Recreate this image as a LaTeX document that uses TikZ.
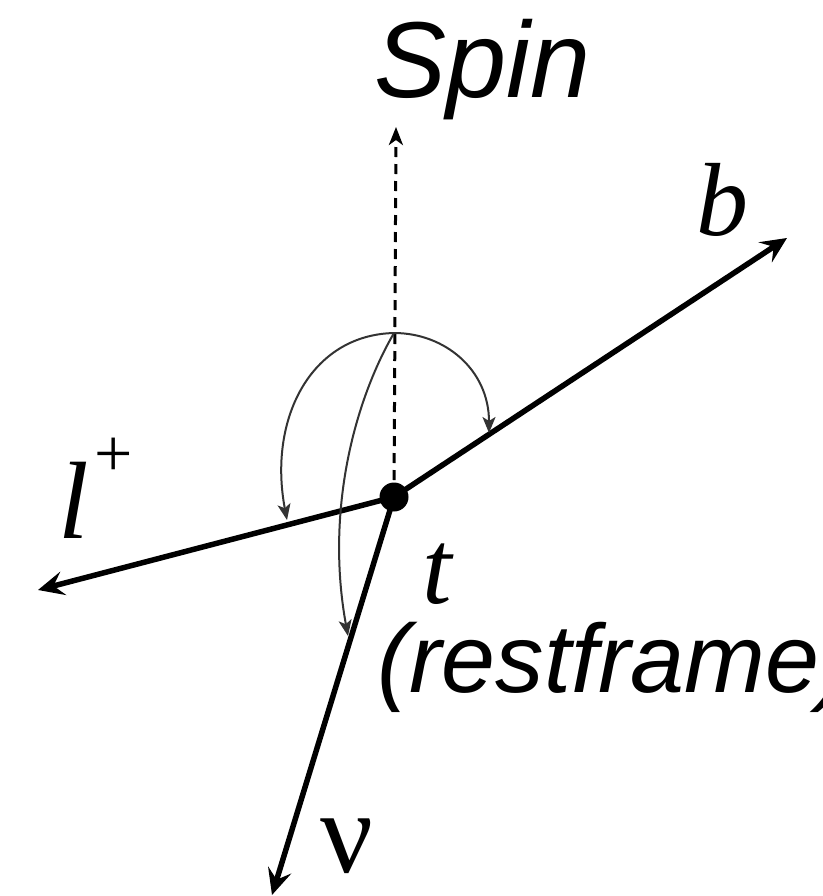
\documentclass[tikz,border=0pt]{standalone}
\usepackage{fontspec}
\setmainfont{Liberation Serif}
\newfontfamily\arialfont{Liberation Sans}
\usetikzlibrary{arrows.meta}
\tikzset{
  mainline/.style={line width=5.5pt, -{Stealth[length=26pt,width=24pt,inset=10pt]}},
  spinline/.style={line width=3pt, dash pattern=on 10pt off 7pt, -{Stealth[length=18pt,width=14pt,inset=5pt]}},
  anglearc/.style={line width=2pt, draw=black!80, -{Stealth[length=16pt,width=13pt,inset=4pt]}},
  sanslabel/.style={inner sep=0pt, anchor=base west, font=\arialfont\itshape},
  seriflabel/.style={inner sep=0pt, anchor=base west},
  dotnode/.style={circle, fill=black, minimum size=29pt, inner sep=0pt}
}
\begin{document}
\begin{tikzpicture}[x=1pt,y=-1pt]
\useasboundingbox (0,0) rectangle (822,896);
% coordinates
\coordinate (btip) at (787,238);
\coordinate (ltip) at (38,590);
\coordinate (ntip) at (272,895);
\coordinate (stip) at (396,127);
\coordinate (T) at (394,333);
\coordinate (rend) at (489,433);
\coordinate (lend) at (287,520);
\coordinate (mend) at (348,636);
% center
\coordinate (O) at (394,497);
% main lines
\draw[spinline] (O) -- (stip);
\draw[mainline] (O) -- (btip);
\draw[mainline] (O) -- (ltip);
\draw[mainline] (O) -- (ntip);
% angle arcs
\draw[anglearc] (T) .. controls (445,333) and (489,370) .. (rend);
\draw[anglearc] (T) .. controls (310,335) and (268,420) .. (lend);
\draw[anglearc] (T) .. controls (355,400) and (325,510) .. (mend);
% dot
\node[dotnode] (dot) at (O) {};
% labels
\node[sanslabel] (spin) at (374,98) {\fontsize{108}{108}\selectfont Spin};
\node[sanslabel] (rest) at (377,692) {\fontsize{97}{97}\selectfont (restframe)};
\node[seriflabel] (t) at (422,603) {\fontsize{106}{106}\selectfont\itshape t};
\node[seriflabel] (b) at (696,235) {\fontsize{104}{104}\selectfont\itshape b};
\node[seriflabel] (l) at (58,538) {\fontsize{110}{110}\selectfont\itshape l\kern6pt\raisebox{62pt}{\upshape\fontsize{68}{68}\selectfont +}};
\node[seriflabel] (nu) at (320,872) {\fontsize{117}{117}\selectfont ν};
\end{tikzpicture}
\end{document}
